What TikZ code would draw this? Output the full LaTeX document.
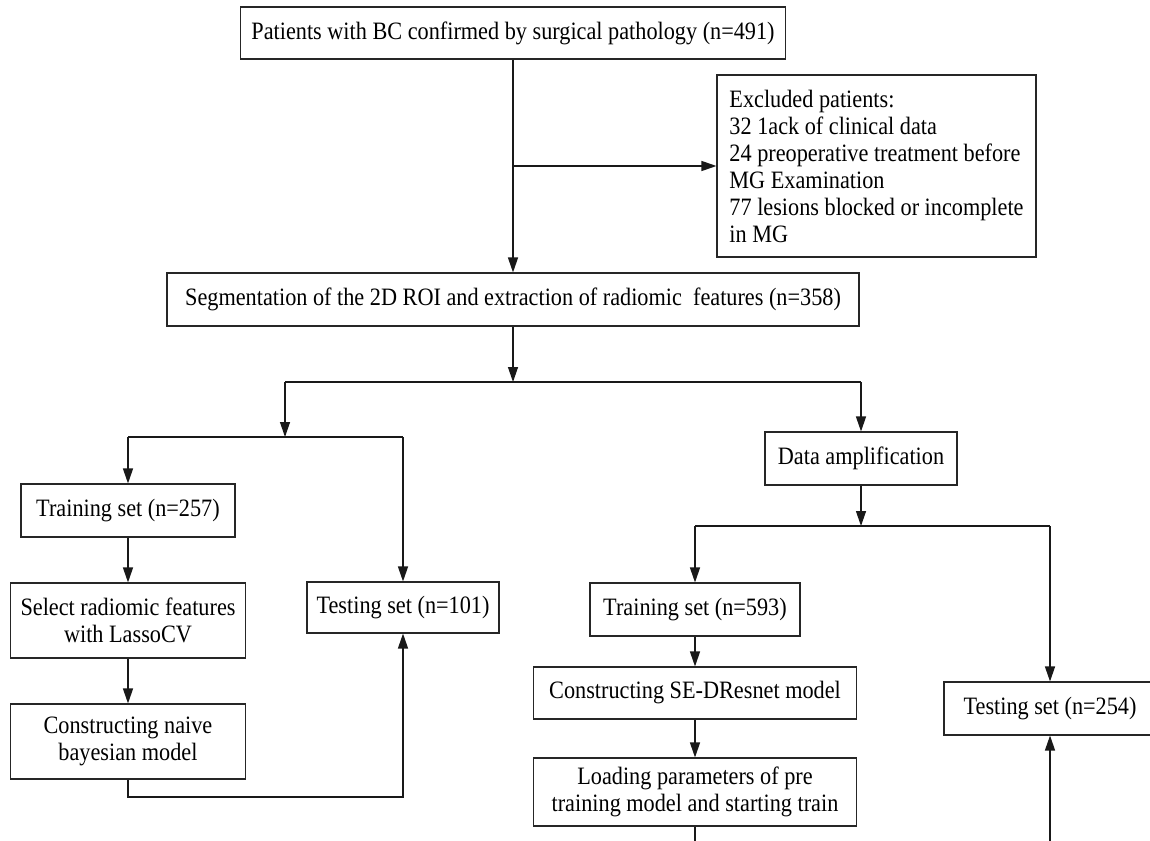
\documentclass[tikz,border=0pt]{standalone}
\usepackage{fontspec}
\setmainfont{Liberation Serif}[FakeStretch=0.89]
\usetikzlibrary{arrows.meta}
\begin{document}
\begin{tikzpicture}[x=1pt,y=-1pt,
  box/.style={draw=black!85, line width=1.1pt, fill=white, inner sep=0pt, align=center,
    font=\fontsize{25}{27}\selectfont},
  conn/.style={draw=black!90, line width=1.3pt},
  arr/.style={conn, -{Triangle[length=15pt,width=10pt]}}
]
\useasboundingbox (0,0) rectangle (1150,840);
\clip (0,0) rectangle (1150,840);
\fill[white] (0,0) rectangle (1150,840);

% boxes
\node[box, minimum width=545pt, minimum height=52pt] (top) at (513,33)
  {Patients with BC confirmed by surgical pathology (n=491)};
\node[box, minimum width=319pt, minimum height=182pt, align=left] (excl) at (876.5,166)
  {Excluded patients:\\32 1ack of clinical data\\24 preoperative treatment before\\MG Examination\\77 lesions blocked or incomplete\\in MG};
\node[box, minimum width=692pt, minimum height=53pt] (seg) at (513,299.5)
  {Segmentation of the 2D ROI and extraction of radiomic~ features (n=358)};
\node[box, minimum width=192pt, minimum height=53pt] (amp) at (861,458.5)
  {Data amplification};
\node[box, minimum width=214pt, minimum height=53pt] (tr257) at (128,510.5)
  {Training set (n=257)};
\node[box, minimum width=192pt, minimum height=51pt] (te101) at (403,607.5)
  {Testing set (n=101)};
\node[box, minimum width=235pt, minimum height=75pt] (sel) at (128,620.5)
  {Select radiomic features\\with LassoCV};
\node[box, minimum width=235pt, minimum height=75pt] (nb) at (128,741.5)
  {Constructing naive\\bayesian model};
\node[box, minimum width=210pt, minimum height=53pt] (tr593) at (695,609.5)
  {Training set (n=593)};
\node[box, minimum width=323pt, minimum height=52pt] (se) at (695,693)
  {Constructing SE-DResnet model};
\node[box, minimum width=323pt, minimum height=68pt] (load) at (695,792)
  {Loading parameters of pre\\training model and starting train};
\node[box, minimum width=212pt, minimum height=53pt] (te254) at (1050,708.5)
  {Testing set (n=254)};

% junction coordinates
\coordinate (jex) at (513,166);
\coordinate (j1) at (513,382);
\coordinate (j1l) at (285,382);
\coordinate (j1r) at (861,382);
\coordinate (j2) at (285,437);
\coordinate (j2l) at (128,437);
\coordinate (j2r) at (403,437);
\coordinate (b1) at (128,797);
\coordinate (b2) at (403,797);
\coordinate (j3) at (861,526);
\coordinate (j3l) at (695,526);
\coordinate (j3r) at (1050,526);
\coordinate (eL) at (695,850);
\coordinate (eR) at (1050,850);

% connectors
\draw[arr] (top.south) -- (seg.north);
\draw[arr] (jex) -- (excl.west |- jex);
\draw[arr] (seg.south) -- (j1);
\draw[conn] (j1l) -- (j1r);
\draw[arr] (j1l) -- (j2);
\draw[conn] (j2l) -- (j2r);
\draw[arr] (j2l) -- (tr257.north);
\draw[arr] (j2r) -- (te101.north);
\draw[arr] (tr257.south) -- (sel.north);
\draw[arr] (sel.south) -- (nb.north);
\draw[arr] (nb.south) -- (b1) -- (b2) -- (te101.south);
\draw[arr] (j1r) -- (amp.north);
\draw[arr] (amp.south) -- (j3);
\draw[conn] (j3l) -- (j3r);
\draw[arr] (j3l) -- (tr593.north);
\draw[arr] (j3r) -- (te254.north);
\draw[arr] (tr593.south) -- (se.north);
\draw[arr] (se.south) -- (load.north);
\draw[conn] (load.south) -- (eL);
\draw[arr] (eR) -- (te254.south);
\end{tikzpicture}
\end{document}
